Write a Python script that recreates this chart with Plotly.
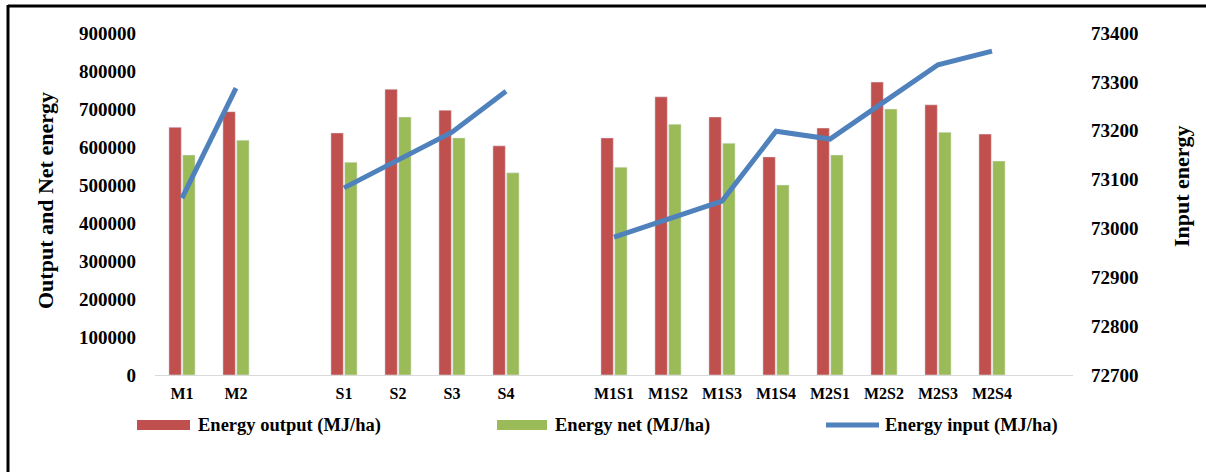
import plotly.graph_objects as go

# Treatments, grouped: main factor, sub factor, and their combinations
treatment_groups = [
    ["M1", "M2"],
    ["S1", "S2", "S3", "S4"],
    ["M1S1", "M1S2", "M1S3", "M1S4", "M2S1", "M2S2", "M2S3", "M2S4"],
]

energy_output = [652000, 693000, 637000, 752000, 697000, 603000,
                 624000, 732000, 679000, 574000, 650000, 771000, 711000, 634000]
energy_net = [579000, 618000, 560000, 679000, 624000, 532000,
              547000, 660000, 610000, 500000, 579000, 700000, 639000, 563000]
energy_input = [73062, 73287, 73083, 73140, 73197, 73281,
                72982, 73019, 73056, 73199, 73183, 73259, 73335, 73363]

series_names = ["Energy output (MJ/ha)", "Energy net (MJ/ha)", "Energy input (MJ/ha)"]
series_colors = ["#C0504D", "#9BBB59", "#4F81BD"]

left_ticks = [0, 100000, 200000, 300000, 400000, 500000, 600000, 700000, 800000, 900000]
right_ticks = [72700, 72800, 72900, 73000, 73100, 73200, 73300, 73400]

# Slot positions along the x axis, with one empty slot between groups
positions, labels = [], []
slot = 0
for group in treatment_groups:
    for name in group:
        positions.append(slot)
        labels.append(name)
        slot += 1
    slot += 1
n_slots = slot - 1

# Input line broken between groups
line_x, line_y = [], []
k = 0
for group in treatment_groups:
    for _ in group:
        line_x.append(positions[k])
        line_y.append(energy_input[k])
        k += 1
    line_x.append(None)
    line_y.append(None)

FONT = "Liberation Serif"
W, H = 1206, 472
ML, MR, MT, MB = 155, 133, 33, 97
PW, PH = W - ML - MR, H - MT - MB


def px_x(px):
    return (px - ML) / PW


def px_y(py):
    return (H - MB - py) / PH


fig = go.Figure()
fig.add_trace(go.Bar(x=positions, y=energy_output, name=series_names[0],
                     marker_color=series_colors[0], showlegend=False))
fig.add_trace(go.Bar(x=positions, y=energy_net, name=series_names[1],
                     marker_color=series_colors[1], showlegend=False))
fig.add_trace(go.Scatter(x=line_x, y=line_y, name=series_names[2], yaxis="y2",
                         mode="lines", connectgaps=False,
                         line=dict(color=series_colors[2], width=5),
                         showlegend=False))

tick_font = dict(family=FONT, size=19, color="#000000", weight="bold")

fig.update_layout(
    width=W, height=H,
    margin=dict(l=ML, r=MR, t=MT, b=MB),
    paper_bgcolor="white", plot_bgcolor="white",
    barmode="group", bargap=0.49, bargroupgap=0.1,
    xaxis=dict(
        range=[-0.5, n_slots + 0.5],
        tickmode="array", tickvals=positions, ticktext=labels,
        tickfont=dict(family=FONT, size=16, color="#000000", weight="bold"),
        showgrid=False, zeroline=False,
        showline=True, linecolor="#D9D9D9", linewidth=1,
        ticks="", ticklabelstandoff=4,
    ),
    yaxis=dict(
        range=[0, 900000], tickmode="array", tickvals=left_ticks,
        ticktext=[str(v) for v in left_ticks],
        tickfont=tick_font, showgrid=False, zeroline=False,
        ticks="", ticklabelstandoff=18,
    ),
    yaxis2=dict(
        range=[72700, 73400], tickmode="array", tickvals=right_ticks,
        ticktext=[str(v) for v in right_ticks],
        tickfont=tick_font, overlaying="y", side="right",
        showgrid=False, zeroline=False, ticks="", ticklabelstandoff=17,
    ),
    showlegend=False,
)

title_font = dict(family=FONT, size=22, color="#000000")
annotations = [
    dict(text="<b>Output and Net energy</b>", xref="paper", yref="paper",
         x=px_x(45), y=px_y(201), xanchor="center", yanchor="middle",
         textangle=-90, showarrow=False, font=title_font),
    dict(text="<b>Input energy</b>", xref="paper", yref="paper",
         x=px_x(1182), y=px_y(186), xanchor="center", yanchor="middle",
         textangle=-90, showarrow=False, font=title_font),
]

# Legend row below the plot
legend_y = 425
swatches = [(137, 190), (497, 547), (826, 879)]
text_x = [196, 553, 883]
shapes = []
for i, (x0, x1) in enumerate(swatches):
    if i < 2:
        shapes.append(dict(type="rect", xref="paper", yref="paper",
                           x0=px_x(x0), x1=px_x(x1),
                           y0=px_y(legend_y + 5), y1=px_y(legend_y - 5),
                           fillcolor=series_colors[i], line=dict(width=0)))
    else:
        shapes.append(dict(type="line", xref="paper", yref="paper",
                           x0=px_x(x0), x1=px_x(x1),
                           y0=px_y(legend_y), y1=px_y(legend_y),
                           line=dict(color=series_colors[i], width=5)))
    annotations.append(dict(text="<b>" + series_names[i] + "</b>",
                            xref="paper", yref="paper",
                            x=px_x(text_x[i]), y=px_y(legend_y),
                            xanchor="left", yanchor="middle", showarrow=False,
                            font=dict(family=FONT, size=18.5, color="#000000")))

# Frame on the top and left edges
shapes.append(dict(type="line", xref="paper", yref="paper",
                   x0=px_x(8), x1=px_x(W + 2), y0=px_y(6), y1=px_y(6),
                   line=dict(color="#000000", width=3)))
shapes.append(dict(type="line", xref="paper", yref="paper",
                   x0=px_x(8), x1=px_x(8), y0=px_y(5), y1=px_y(H + 2),
                   line=dict(color="#000000", width=3)))

fig.update_layout(annotations=annotations, shapes=shapes)

fig.write_html("out.html")
